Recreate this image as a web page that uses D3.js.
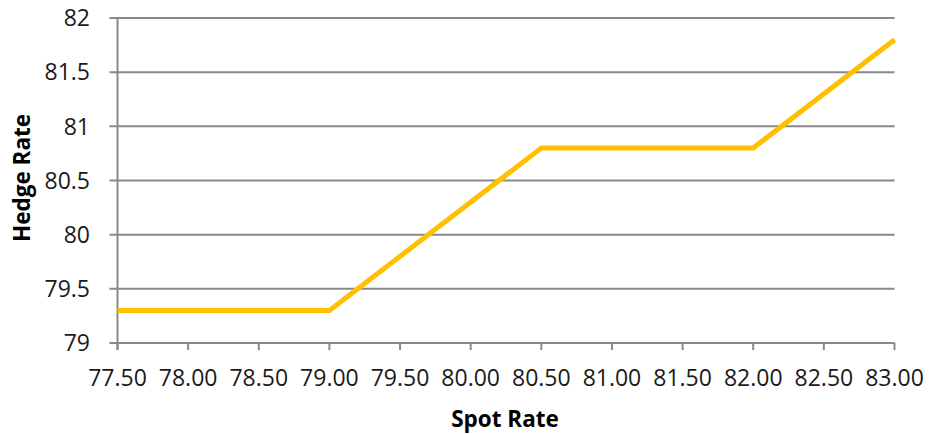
<!DOCTYPE html>
<html><head><meta charset="utf-8">
<script src="https://cdn.jsdelivr.net/npm/d3@7"></script>
<style>body{margin:0;background:#fff}svg{display:block}</style>
</head><body>
<svg id="c" width="930" height="434"></svg>
<script>
const spotRate = [77.5, 79.0, 80.5, 82.0, 83.0];
const hedgeRate = [79.3, 79.3, 80.8, 80.8, 81.8];
const xTicks = [77.5,78,78.5,79,79.5,80,80.5,81,81.5,82,82.5,83];
const yTicks = [79,79.5,80,80.5,81,81.5,82];
const xTitle = "Spot Rate", yTitle = "Hedge Rate";

const svg = d3.select("#c");
const L = 117.5, R = 894.5, T = 18, B = 343;
const x = d3.scaleLinear().domain([77.5, 83]).range([L, R]);
const y = d3.scaleLinear().domain([79, 82]).range([B, T]);
const font = "'Open Sans', sans-serif";
const grid = "#898989";

// gridlines
svg.append("g").selectAll("line").data(yTicks).join("line")
  .attr("x1", L - 8).attr("x2", R).attr("y1", d => y(d)).attr("y2", d => y(d))
  .attr("stroke", grid).attr("stroke-width", 2);

// y axis line
svg.append("line").attr("x1", L).attr("x2", L).attr("y1", T).attr("y2", B + 7)
  .attr("stroke", grid).attr("stroke-width", 2);
// x tick marks
svg.append("g").selectAll("line").data(xTicks).join("line")
  .attr("x1", d => x(d)).attr("x2", d => x(d)).attr("y1", B).attr("y2", B + 7)
  .attr("stroke", grid).attr("stroke-width", 2);

// y labels
svg.append("g").selectAll("text").data(yTicks).join("text")
  .attr("x", 90).attr("y", d => y(d)).attr("dy", "0.36em")
  .attr("text-anchor", "end").attr("font-family", font).attr("font-size", 23)
  .attr("fill", "#1a1a1a").text(d => d3.format("")(d));
// x labels
svg.append("g").selectAll("text").data(xTicks).join("text")
  .attr("x", d => x(d)).attr("y", 386)
  .attr("text-anchor", "middle").attr("font-family", font).attr("font-size", 23)
  .attr("fill", "#1a1a1a").text(d => d.toFixed(2));

// titles
svg.append("text").attr("x", 505).attr("y", 427).attr("text-anchor", "middle")
  .attr("font-family", font).attr("font-weight", "bold").attr("font-size", 22.5)
  .attr("fill", "#000").text(xTitle);
svg.append("text").attr("transform", "translate(30,178) rotate(-90)")
  .attr("text-anchor", "middle")
  .attr("font-family", font).attr("font-weight", "bold").attr("font-size", 22.5)
  .attr("fill", "#000").text(yTitle);

// line
const line = d3.line().x((d, i) => x(spotRate[i])).y(d => y(d));
svg.append("path").datum(hedgeRate).attr("d", line)
  .attr("fill", "none").attr("stroke", "#FFC000").attr("stroke-width", 5)
  .attr("stroke-linejoin", "miter");
</script>
</body></html>
